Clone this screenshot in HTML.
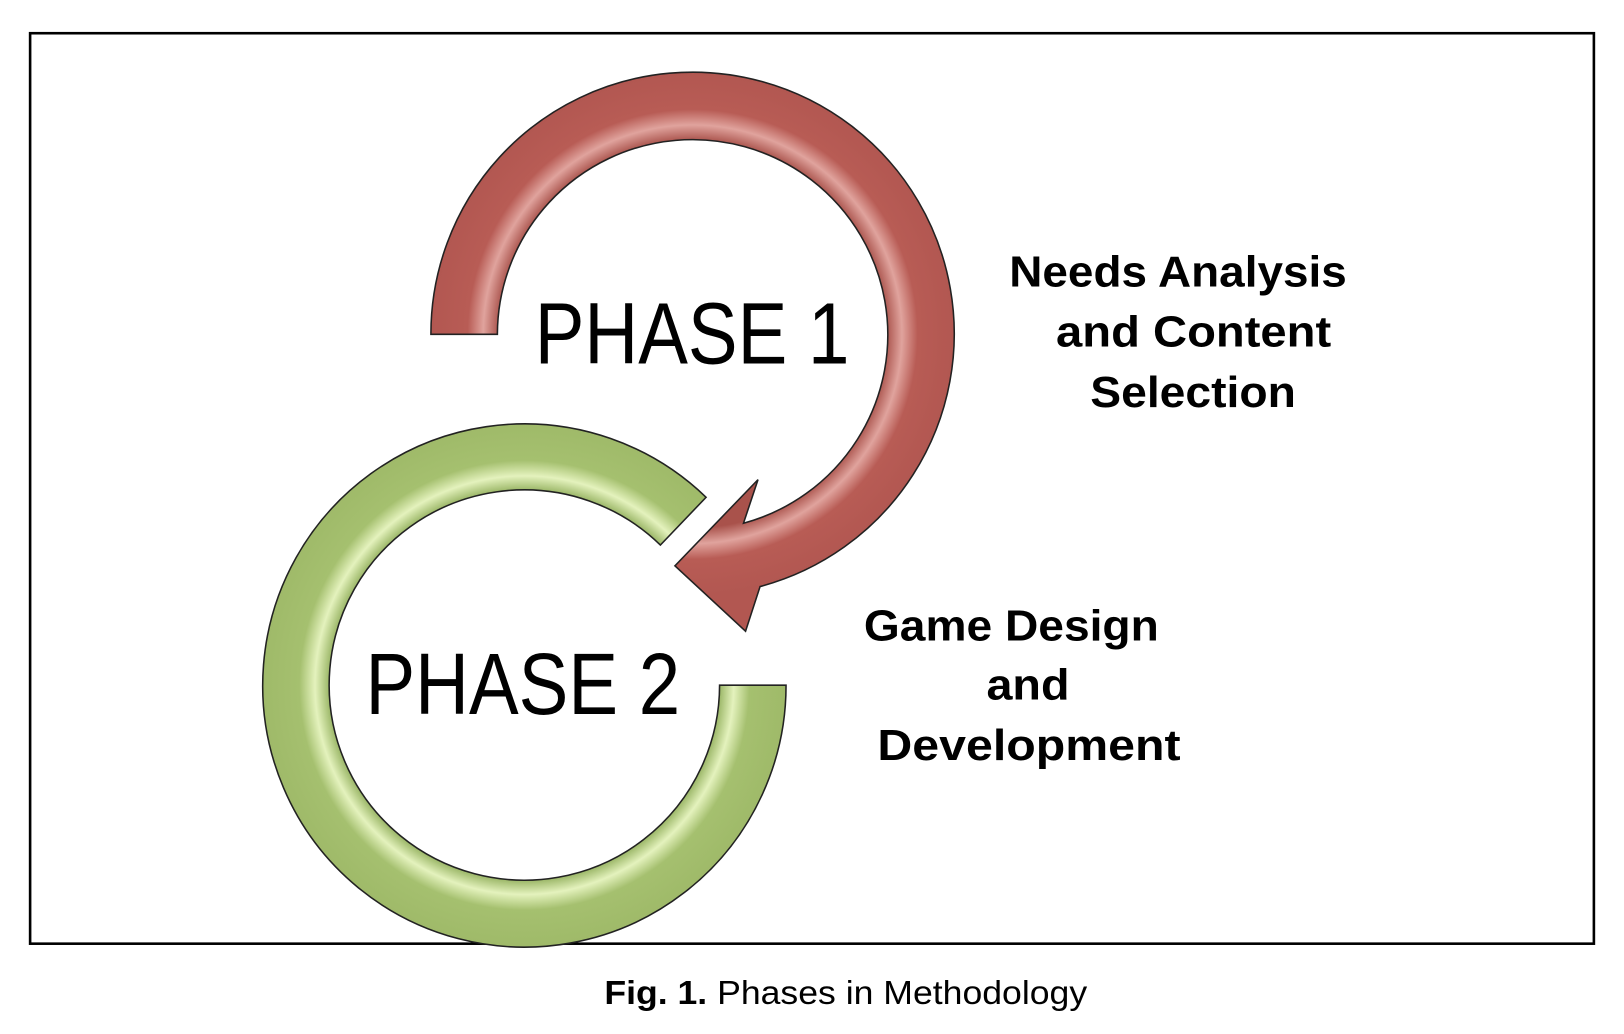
<!DOCTYPE html>
<html><head><meta charset="utf-8"><style>html,body{margin:0;padding:0;background:#fff}svg{display:block}</style></head>
<body>
<svg width="1624" height="1034" viewBox="0 0 1564 996" preserveAspectRatio="none" xmlns="http://www.w3.org/2000/svg">
<defs>
<radialGradient id="rg" cx="667" cy="322" r="252" gradientUnits="userSpaceOnUse">
<stop offset="0.74" stop-color="#a9524b"/><stop offset="0.8" stop-color="#e0a39d"/><stop offset="0.86" stop-color="#b85c55"/><stop offset="1" stop-color="#b25751"/></radialGradient>
<radialGradient id="gg" cx="505" cy="660" r="252" gradientUnits="userSpaceOnUse">
<stop offset="0.74" stop-color="#93b05e"/><stop offset="0.8" stop-color="#e4f2bd"/><stop offset="0.86" stop-color="#a5c06f"/><stop offset="1" stop-color="#9fba69"/></radialGradient>
</defs>
<rect x="29" y="32" width="1506" height="877" fill="#fff" stroke="#000" stroke-width="2.5"/>
<path d="M757,660 A252,252 0 1 1 680,479 L636,525 A188,188 0 1 0 693,660 Z" fill="url(#gg)" stroke="#222" stroke-width="1.5"/>
<path d="M415,322 A252,252 0 1 1 732,565 L718,608 L650,545 L730,462 L716,504 A188,188 0 1 0 479,322 Z" fill="url(#rg)" stroke="#222" stroke-width="1.5"/>
<g font-family="Liberation Sans, sans-serif" fill="#000">
<text x="515" y="350" font-size="84" textLength="303" lengthAdjust="spacingAndGlyphs">PHASE 1</text>
<text x="352" y="688" font-size="84" textLength="303" lengthAdjust="spacingAndGlyphs">PHASE 2</text>
<g font-weight="bold" font-size="42">
<text x="972" y="276" textLength="325" lengthAdjust="spacingAndGlyphs">Needs Analysis</text>
<text x="1017" y="334" textLength="265" lengthAdjust="spacingAndGlyphs">and Content</text>
<text x="1050" y="392" textLength="198" lengthAdjust="spacingAndGlyphs">Selection</text>
<text x="832" y="617" textLength="284" lengthAdjust="spacingAndGlyphs">Game Design</text>
<text x="950" y="674" textLength="80" lengthAdjust="spacingAndGlyphs">and</text>
<text x="845" y="732" textLength="292" lengthAdjust="spacingAndGlyphs">Development</text>
</g>
<text x="582" y="967" font-size="32" textLength="465" lengthAdjust="spacingAndGlyphs"><tspan font-weight="bold">Fig. 1.</tspan> Phases in Methodology</text>
</g>
</svg>
</body></html>
